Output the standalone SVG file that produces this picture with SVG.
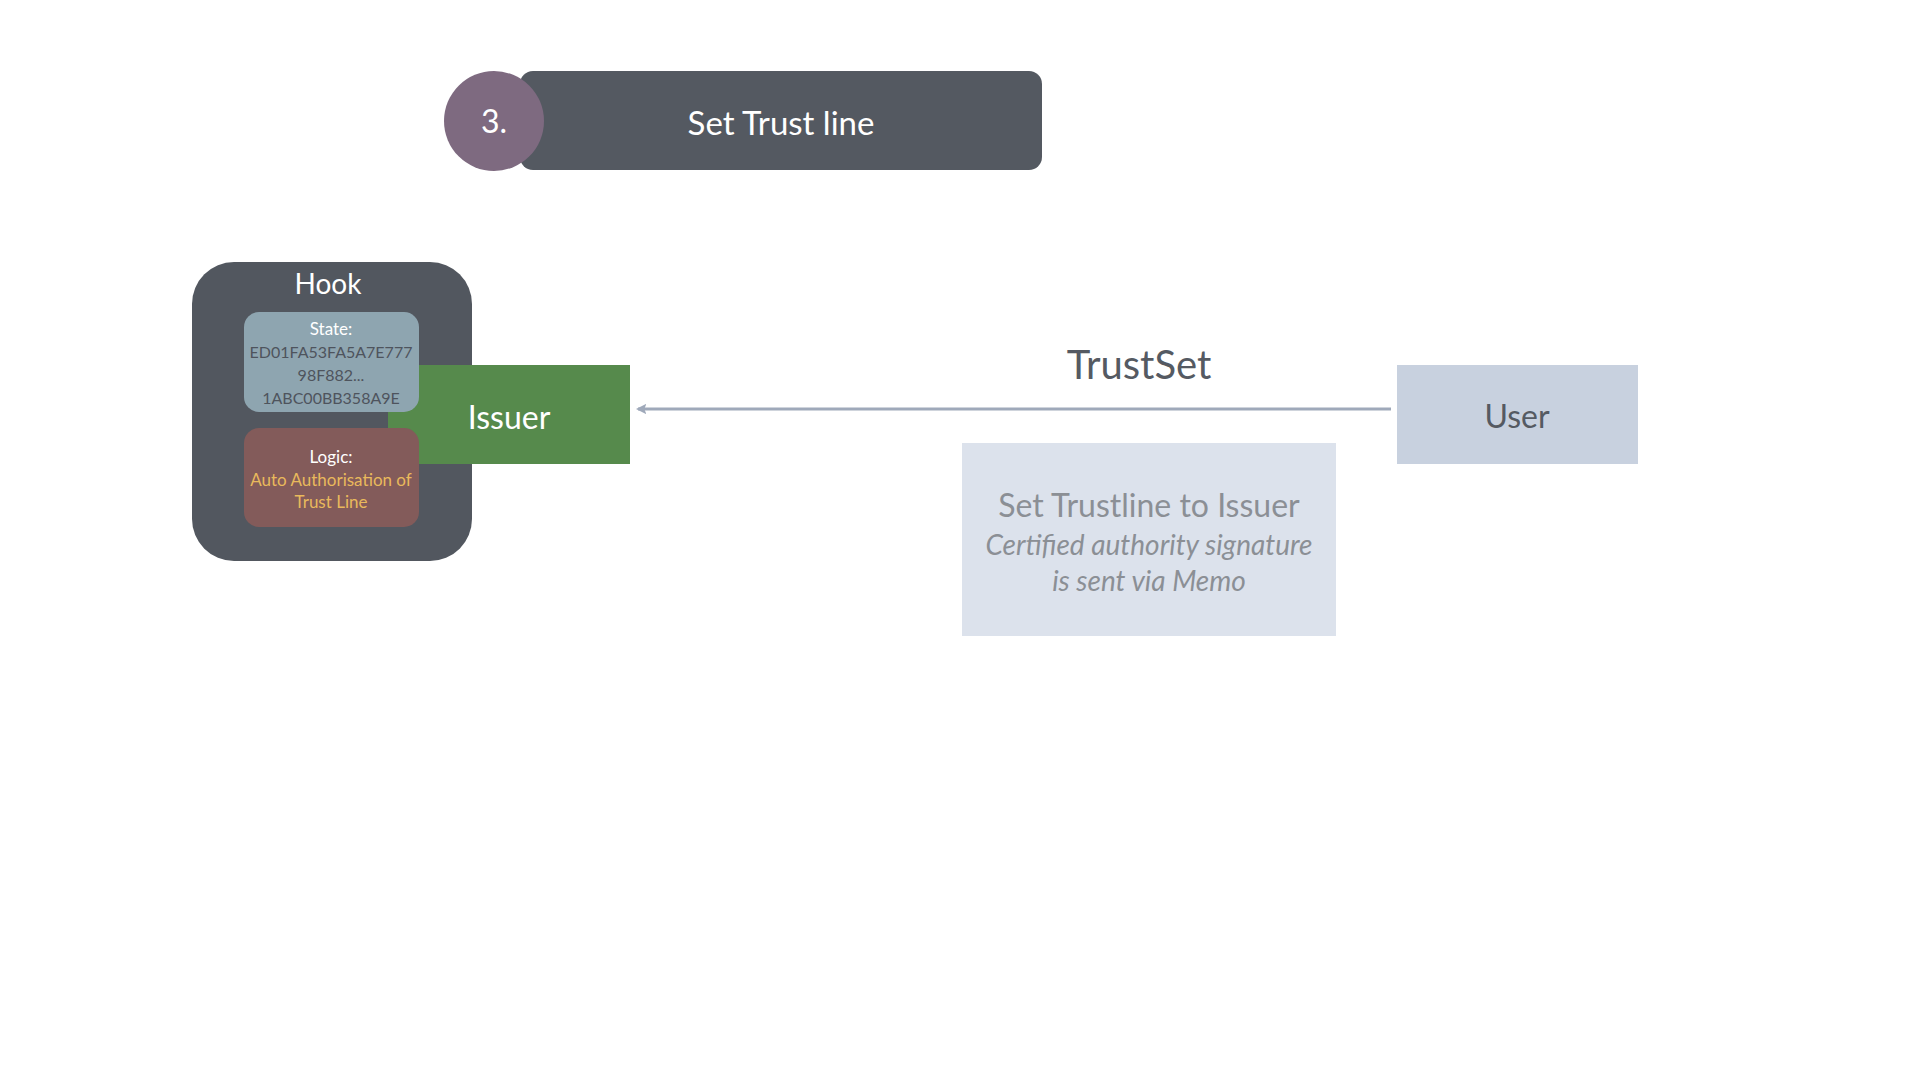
<svg xmlns="http://www.w3.org/2000/svg" width="1920" height="1080" viewBox="0 0 1920 1080">
<style>
text{font-family:Lato,"Open Sans","Liberation Sans",sans-serif;text-anchor:middle}
.w{fill:#ffffff}
.hex{fill:#4e545d;font-size:16px}
.lbl{fill:#ffffff;font-size:17px}
.yel{fill:#e9b95c;font-size:17px}
.big{font-size:32px}
</style>
<defs>
<marker id="ah" viewBox="0 0 10 10" refX="8" refY="5" markerWidth="3.5" markerHeight="3.5" orient="auto" markerUnits="strokeWidth">
<path d="M0,0 L10,5 L0,10 L2,5 z" fill="#9fa9ba"/>
</marker>
</defs>
<rect width="1920" height="1080" fill="#ffffff"/>
<g id="title">
<rect x="520" y="71" width="522" height="99" rx="13" fill="#545961"/>
<text x="781" y="135" class="w" font-size="33">Set Trust line</text>
</g>
<g id="step">
<circle cx="494" cy="121" r="50" fill="#7e6a80"/>
<text x="494" y="133" class="w" font-size="32">3.</text>
</g>
<g id="hook">
<rect x="192" y="262" width="280" height="299" rx="42" fill="#52575f"/>
<text x="328" y="294" class="w" font-size="28">Hook</text>
</g>
<g id="issuer">
<rect x="388" y="365" width="242" height="99" fill="#568a4c"/>
<text x="509" y="429" class="w big">Issuer</text>
</g>
<g id="state">
<rect x="244" y="312" width="175" height="100" rx="15" fill="#8ea5b0"/>
<text x="331" y="335" class="lbl">State:</text>
<text x="331" y="358" class="hex">ED01FA53FA5A7E777</text>
<text x="331" y="381" class="hex">98F882...</text>
<text x="331" y="404" class="hex">1ABC00BB358A9E</text>
</g>
<g id="logic">
<rect x="244" y="428" width="175" height="99" rx="15" fill="#835b5a"/>
<text x="331" y="463" class="lbl">Logic:</text>
<text x="331" y="486" class="yel">Auto Authorisation of</text>
<text x="331" y="508" class="yel">Trust Line</text>
</g>
<g id="user">
<rect x="1397" y="365" width="241" height="99" fill="#c8d1df"/>
<text x="1517" y="428" class="big" fill="#555a62">User</text>
</g>
<g id="memo">
<rect x="962" y="443" width="374" height="193" fill="#dce2ec"/>
<text x="1149" y="517" font-size="32" fill="#8b8f95">Set Trustline to Issuer</text>
<text x="1149" y="555" font-size="28" font-style="italic" fill="#8b8f95">Certified authority signature</text>
<text x="1149" y="591" font-size="28" font-style="italic" fill="#8b8f95">is sent via Memo</text>
</g>
<g id="connectors">
<line x1="1391" y1="409" x2="638" y2="409" stroke="#9fa9ba" stroke-width="3" marker-end="url(#ah)"/>
<text x="1139" y="379" font-size="40" fill="#555a62">TrustSet</text>
</g>
</svg>
